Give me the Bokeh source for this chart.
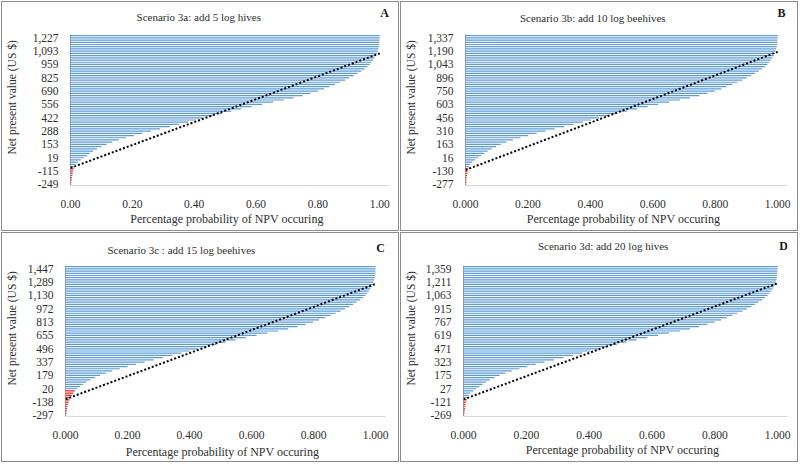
from bokeh.plotting import figure
from bokeh.layouts import row, column
from bokeh.models import Range1d, FixedTicker, NumeralTickFormatter, Label, ColumnDataSource
from bokeh.embed import file_html
from bokeh.resources import INLINE

# ---------------- data ----------------
titles = ["Scenario  3a:  add 5 log hives", "Scenario  3b: add 10 log  beehives",
          "Scenario  3c :  add 15 log  beehives", "Scenario  3d: add 20 log hives"]
letters = ["A", "B", "C", "D"]
y_title = "Net present value  (US $)"
x_title = "Percentage  probability  of NPV occuring"

npv_labels_a = ["-249", "-115", "19", "153", "288", "422", "556", "690", "825", "959", "1,093", "1,227"]
npv_labels_b = ["-277", "-130", "16", "163", "310", "456", "603", "750", "896", "1,043", "1,190", "1,337"]
npv_labels_c = ["-297", "-138", "20", "179", "337", "496", "655", "813", "972", "1,130", "1,289", "1,447"]
npv_labels_d = ["-269", "-121", "27", "175", "323", "471", "619", "767", "915", "1,063", "1,211", "1,359"]

cdf_a = [0.002, 0.003, 0.004, 0.005, 0.006, 0.007, 0.008, 0.010,
         0.012, 0.016, 0.024, 0.033, 0.043, 0.053, 0.062, 0.073,
         0.086, 0.100, 0.117, 0.135, 0.156, 0.180, 0.205, 0.232,
         0.260, 0.290, 0.321, 0.350, 0.380, 0.405, 0.430, 0.460,
         0.490, 0.520, 0.552, 0.586, 0.620, 0.655, 0.690, 0.722,
         0.751, 0.776, 0.800, 0.820, 0.838, 0.856, 0.872, 0.888,
         0.902, 0.916, 0.928, 0.940, 0.951, 0.960, 0.968, 0.974,
         0.979, 0.983, 0.987, 0.991, 0.994, 0.996, 0.997, 0.998,
         0.999, 0.999, 1.000, 1.000]
cdf_b = [0.002, 0.003, 0.003, 0.004, 0.005, 0.006, 0.007, 0.009,
         0.011, 0.014, 0.021, 0.030, 0.040, 0.050, 0.060, 0.071,
         0.084, 0.098, 0.113, 0.131, 0.152, 0.176, 0.201, 0.228,
         0.256, 0.286, 0.316, 0.346, 0.376, 0.402, 0.428, 0.457,
         0.487, 0.518, 0.550, 0.583, 0.617, 0.652, 0.687, 0.719,
         0.749, 0.775, 0.799, 0.819, 0.837, 0.855, 0.871, 0.887,
         0.901, 0.915, 0.927, 0.939, 0.950, 0.959, 0.967, 0.973,
         0.978, 0.983, 0.987, 0.990, 0.993, 0.995, 0.997, 0.998,
         0.999, 0.999, 1.000, 1.000]
cdf_c = [0.002, 0.003, 0.004, 0.005, 0.006, 0.008, 0.010, 0.013,
         0.016, 0.020, 0.025, 0.030, 0.037, 0.046, 0.056, 0.067,
         0.080, 0.095, 0.111, 0.130, 0.151, 0.175, 0.200, 0.227,
         0.255, 0.284, 0.314, 0.344, 0.374, 0.400, 0.426, 0.455,
         0.485, 0.516, 0.548, 0.582, 0.616, 0.651, 0.686, 0.718,
         0.748, 0.774, 0.798, 0.818, 0.837, 0.855, 0.871, 0.887,
         0.901, 0.915, 0.927, 0.939, 0.950, 0.959, 0.967, 0.973,
         0.978, 0.983, 0.987, 0.990, 0.993, 0.995, 0.997, 0.998,
         0.999, 0.999, 1.000, 1.000]
cdf_d = [0.002, 0.003, 0.004, 0.005, 0.006, 0.007, 0.008, 0.010,
         0.012, 0.015, 0.022, 0.031, 0.041, 0.051, 0.061, 0.072,
         0.085, 0.099, 0.115, 0.133, 0.154, 0.178, 0.203, 0.230,
         0.258, 0.288, 0.318, 0.348, 0.378, 0.404, 0.429, 0.458,
         0.488, 0.519, 0.551, 0.585, 0.619, 0.654, 0.689, 0.721,
         0.750, 0.776, 0.800, 0.820, 0.838, 0.856, 0.872, 0.888,
         0.902, 0.916, 0.928, 0.940, 0.951, 0.960, 0.968, 0.974,
         0.979, 0.984, 0.988, 0.991, 0.994, 0.996, 0.997, 0.998,
         0.999, 0.999, 1.000, 1.000]

# number of lowest (loss) categories drawn in red
red_rows = [8, 8, 12, 8]
# dotted trend line: category position where it meets x = 0 and x = 1
trend_a = [7.4, 59.0]
trend_b = [6.5, 59.7]
trend_c = [7.3, 59.2]
trend_d = [7.2, 59.5]
prob_ticks = [0.0, 0.2, 0.4, 0.6, 0.8, 1.0]
prob_formats = ["0.00", "0.000", "0.000", "0.000"]
label_every = 6

# ---------------- layout (pixels) ----------------
W, H = 396, 228
PLOT_TOP, PLOT_BOTTOM = 32, 183      # canvas y of the bar area
FRAME_TOP = 4
RIGHT_PAD = 10
frame_lr = [(61, 377), (58, 376), (58, 373), (57, 376)]   # canvas x of value 0 and 1
ylab_standoff = [12, 8, 7, 6]
xlab_standoff = [1, 1, 3, 1]
title_pos = [(131, 169), (130, 168), (120, 167), (141, 171)]   # frame-relative, y up
letter_pos = [(314, 173), (316, 173), (315, 169), (320, 171)]

FONT = "Liberation Serif"
TXT = "#2e2e2e"


def make_panel(k, labels, cdf, trend):
    n = len(cdf)
    left, right = frame_lr[k]
    px_per_cat = (PLOT_BOTTOM - PLOT_TOP) / n
    y_end = (n - 0.5) + (PLOT_TOP - FRAME_TOP) / px_per_cat
    x_end = 1 + RIGHT_PAD / (right - left)
    p = figure(width=W, height=H, output_backend="svg", toolbar_location=None,
               x_range=Range1d(0, x_end), y_range=Range1d(-0.5, y_end),
               min_border_left=left, min_border_right=W - right - RIGHT_PAD,
               min_border_top=FRAME_TOP, min_border_bottom=H - PLOT_BOTTOM,
               outline_line_color=None, background_fill_color="white",
               border_fill_color="white")
    p.styles = {"outline": "1px solid #8c8c8c", "outline-offset": "0px"}

    idx = list(range(n))
    colors = ["#ff1a1a" if i < red_rows[k] else "#5b9bd5" for i in idx]
    src = ColumnDataSource(dict(y=idx, right=cdf, color=colors))
    p.hbar(y="y", left=0, right="right", height=0.55, fill_color="color",
           line_color=None, source=src)
    p.line(x=[0, 1], y=trend, line_color="black", line_width=2, line_dash="2 2")
    # vertical category axis line, only along the bars
    p.segment(x0=[0], y0=[-0.5], x1=[0], y1=[n - 0.5], line_color="#404040", line_width=1)

    p.xgrid.visible = False
    p.ygrid.visible = False
    ticks = [i * label_every for i in range(len(labels))]
    p.yaxis.ticker = FixedTicker(ticks=ticks)
    p.yaxis.major_label_overrides = {t: lab for t, lab in zip(ticks, labels)}
    p.xaxis.ticker = FixedTicker(ticks=prob_ticks)
    p.xaxis.formatter = NumeralTickFormatter(format=prob_formats[k])
    for ax in (p.xaxis[0], p.yaxis[0]):
        ax.major_tick_line_color = None
        ax.minor_tick_line_color = None
        ax.major_label_text_font = FONT
        ax.major_label_text_font_size = "11.5px"
        ax.major_label_text_color = TXT
        ax.axis_label_text_font = FONT
        ax.axis_label_text_font_style = "normal"
        ax.axis_label_text_color = TXT
    p.xaxis.axis_label_text_font_size = "12px"
    p.yaxis.axis_label_text_font_size = "11.5px"
    p.yaxis.axis_line_color = None
    p.xaxis.axis_line_color = "#d9d9d9"
    p.yaxis.major_label_standoff = 6
    p.xaxis.major_label_standoff = 8
    p.yaxis.axis_label = y_title
    p.yaxis.axis_label_standoff = ylab_standoff[k]
    p.xaxis.axis_label = x_title
    p.xaxis.axis_label_standoff = xlab_standoff[k]

    tx, ty = title_pos[k]
    p.add_layout(Label(x=tx, y=ty, x_units="screen", y_units="screen", text=titles[k],
                       text_font=FONT, text_font_size="11px", text_color=TXT,
                       text_align="center", text_baseline="middle"))
    lx, ly = letter_pos[k]
    p.add_layout(Label(x=lx, y=ly, x_units="screen", y_units="screen", text=letters[k],
                       text_font=FONT, text_font_size="12px", text_font_style="bold",
                       text_color="#1a1a1a", text_align="center", text_baseline="middle"))
    return p


pa = make_panel(0, npv_labels_a, cdf_a, trend_a)
pb = make_panel(1, npv_labels_b, cdf_b, trend_b)
pc = make_panel(2, npv_labels_c, cdf_c, trend_c)
pd = make_panel(3, npv_labels_d, cdf_d, trend_d)

layout = column(row(pa, pb, spacing=3), row(pc, pd, spacing=3), spacing=3, margin=(2, 0, 0, 2))
open("out.html", "w").write(file_html(layout, INLINE))
